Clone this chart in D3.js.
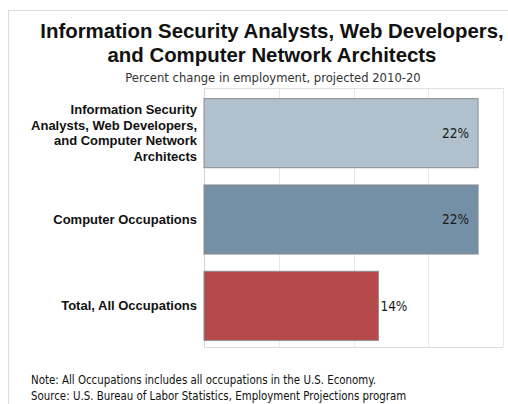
<!DOCTYPE html>
<html>
<head>
<meta charset="utf-8">
<script src="https://cdn.jsdelivr.net/npm/d3@7"></script>
<style>
  body { margin: 0; background: #fff; }
</style>
</head>
<body>
<div id="chart"></div>
<script>
const categories = [
  'Information Security Analysts, Web Developers, and Computer Network Architects',
  'Computer Occupations',
  'Total, All Occupations',
];
const categoryLines = [
  ['Information Security', 'Analysts, Web Developers,', 'and Computer Network', 'Architects'],
  ['Computer Occupations'],
  ['Total, All Occupations'],
];
const values = [22, 22, 14];
const barColors = ['#adbfcb', '#6f8ca4', '#b34343'];
const xTicks = [0, 6, 12, 18, 24];
const titleLines = ['Information Security Analysts, Web Developers,', 'and Computer Network Architects'];
const subtitle = 'Percent change in employment, projected 2010-20';
const notes = [
  'Note: All Occupations includes all occupations in the U.S. Economy.',
  'Source: U.S. Bureau of Labor Statistics, Employment Projections program',
];

const width = 508;
const height = 404;
const plot = { left: 204, right: 503, top: 88, bottom: 347 };

const svg = d3.select('#chart')
  .append('svg')
  .attr('width', width)
  .attr('height', height);

// outer frame
svg.append('rect')
  .attr('x', 8.5).attr('y', 10.5)
  .attr('width', 520).attr('height', 420)
  .attr('fill', 'none')
  .attr('stroke', '#dcdcdc');

// titles
svg.selectAll('.title')
  .data(titleLines)
  .enter()
  .append('text')
  .attr('x', 272)
  .attr('y', (_, i) => 38 + i * 24)
  .attr('text-anchor', 'middle')
  .style('font-family', '"Liberation Sans", Arial, sans-serif')
  .style('font-weight', 'bold')
  .style('font-size', '20.4px')
  .style('fill', '#111')
  .text((d) => d);

svg.append('text')
  .attr('x', 273)
  .attr('y', 82)
  .attr('text-anchor', 'middle')
  .style('font-family', '"DejaVu Sans Condensed", "DejaVu Sans", sans-serif')
  .style('font-size', '12.9px')
  .style('fill', '#333')
  .text(subtitle);

const x = d3.scaleLinear()
  .domain([0, 24])
  .range([plot.left, plot.right]);

const y = d3.scaleBand()
  .domain(categories)
  .range([90, 349])
  .paddingInner(0.2)
  .paddingOuter(0.1);

// gridlines
svg.append('g')
  .selectAll('line')
  .data(xTicks)
  .enter()
  .append('line')
  .attr('x1', (d) => Math.round(x(d)) + 0.5)
  .attr('x2', (d) => Math.round(x(d)) + 0.5)
  .attr('y1', plot.top)
  .attr('y2', plot.bottom)
  .attr('stroke', (d) => (d === 0 ? '#d6d6d6' : '#e8e8e8'));

svg.append('line')
  .attr('x1', plot.left).attr('x2', plot.right)
  .attr('y1', plot.top + 0.5).attr('y2', plot.top + 0.5)
  .attr('stroke', '#e0e0e0');
svg.append('line')
  .attr('x1', plot.left).attr('x2', plot.right)
  .attr('y1', plot.bottom + 0.5).attr('y2', plot.bottom + 0.5)
  .attr('stroke', '#dcdcdc');

// bars
svg.append('g')
  .selectAll('rect')
  .data(values)
  .enter()
  .append('rect')
  .attr('x', x(0))
  .attr('y', (_, i) => y(categories[i]))
  .attr('width', (d) => x(d) - x(0))
  .attr('height', y.bandwidth())
  .attr('fill', (_, i) => barColors[i])
  .attr('fill-opacity', 0.97)
  .attr('stroke', '#8c8c8c')
  .attr('stroke-width', 1);

// value labels
svg.append('g')
  .selectAll('text')
  .data(values)
  .enter()
  .append('text')
  .attr('x', (d) => (d > 18 ? x(d) - 9 : x(d) + 2))
  .attr('y', (_, i) => y(categories[i]) + y.bandwidth() / 2)
  .attr('dy', '0.35em')
  .attr('text-anchor', (d) => (d > 18 ? 'end' : 'start'))
  .style('font-family', '"DejaVu Sans Condensed", "DejaVu Sans", sans-serif')
  .style('font-size', '13.5px')
  .style('fill', '#1a1a1a')
  .text((d) => `${d}%`);

// category labels
const lineH = 15.5;
const cat = svg.append('g')
  .selectAll('text')
  .data(categories)
  .enter()
  .append('text')
  .attr('text-anchor', 'end')
  .attr('y', (d) => y(d) + y.bandwidth() / 2)
  .style('font-family', '"Liberation Sans", Arial, sans-serif')
  .style('font-weight', 'bold')
  .style('font-size', '13px')
  .style('fill', '#111');

cat.each(function (d, i) {
  const lines = categoryLines[i];
  const off = -((lines.length - 1) * lineH) / 2;
  d3.select(this)
    .selectAll('tspan')
    .data(lines)
    .enter()
    .append('tspan')
    .attr('x', 197)
    .attr('dy', (_, j) => (j === 0 ? off + 4.5 : lineH))
    .text((t) => t);
});

// notes
svg.append('g')
  .selectAll('text')
  .data(notes)
  .enter()
  .append('text')
  .attr('x', 31)
  .attr('y', (_, i) => 384 + i * 16)
  .style('font-family', '"DejaVu Sans Condensed", "DejaVu Sans", sans-serif')
  .style('font-size', '11.4px')
  .style('fill', '#111')
  .text((d) => d);
</script>
</body>
</html>
